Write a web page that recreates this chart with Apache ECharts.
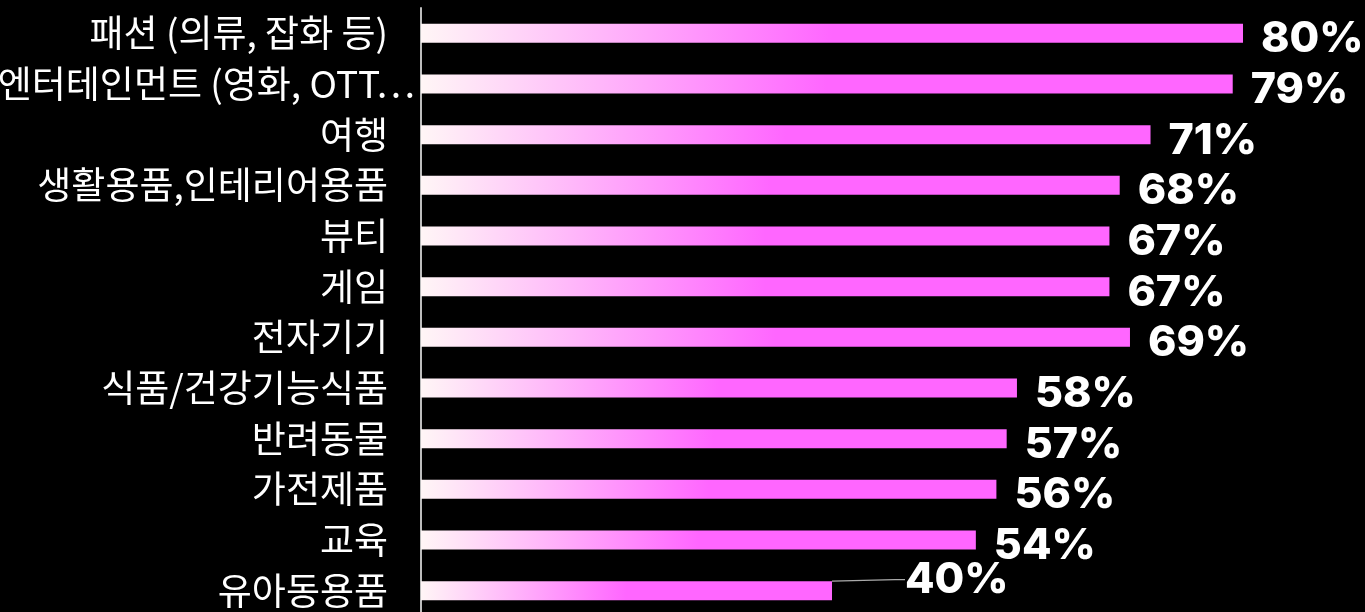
<!DOCTYPE html>
<html>
<head>
<meta charset="utf-8">
<script src="https://cdn.jsdelivr.net/npm/echarts@6/dist/echarts.min.js"></script>
<style>
  html, body { margin: 0; padding: 0; background: #000; }
  #chart { width: 1365px; height: 612px; }
</style>
</head>
<body>
<div id="chart"></div>
<script>
var categories = [
  '패션 (의류, 잡화 등)',
  '엔터테인먼트 (영화, OTT 등)',
  '여행',
  '생활용품,인테리어용품',
  '뷰티',
  '게임',
  '전자기기',
  '식품/건강기능식품',
  '반려동물',
  '가전제품',
  '교육',
  '유아동용품'
];
var values = [80, 79, 71, 68, 67, 67, 69, 58, 57, 56, 54, 40];

var LABEL_FONT_SIZE = 37;
var LABEL_FAMILY = '"Noto Sans CJK KR", sans-serif';
var LABEL_WIDTH = 426;
var lastIndex = values.length - 1;

var seriesData = values.map(function (v, i) {
  return i === lastIndex ? { value: v, labelLine: { show: true } } : v;
});

var chart = echarts.init(document.getElementById('chart'));
chart.setOption({
  backgroundColor: '#000',
  animation: false,
  grid: { left: 421, top: 8, width: 822, height: 608, containLabel: false, outerBoundsMode: 'none' },
  xAxis: {
    type: 'value', min: 0, max: 80,
    show: false
  },
  yAxis: {
    type: 'category',
    data: categories,
    inverse: true,
    axisLine: { show: true, lineStyle: { color: '#bdbdbd', width: 2 } },
    axisTick: { show: false },
    axisLabel: {
      color: '#fff',
      fontSize: LABEL_FONT_SIZE,
      fontFamily: LABEL_FAMILY,
      margin: 6,
      formatter: function (v) {
        var t = echarts.format.truncateText(v, LABEL_WIDTH, LABEL_FONT_SIZE + 'px ' + LABEL_FAMILY, '…');
        return t === v ? v + '{gap|}' : t;
      },
      rich: { gap: { width: 27 } }
    }
  },
  series: [{
    type: 'bar',
    data: seriesData,
    barWidth: 19,
    itemStyle: {
      color: {
        type: 'linear', x: 0, y: 0, x2: 1, y2: 1,
        colorStops: [
          { offset: 0, color: '#fff6f6' },
          { offset: 0.5, color: '#ff66ff' },
          { offset: 1, color: '#ff66ff' }
        ]
      }
    },
    label: {
      show: true,
      position: 'right',
      distance: 18,
      color: '#fff',
      fontFamily: 'Inter, sans-serif',
      fontWeight: 800,
      fontSize: 43,
      formatter: '{c}%'
    },
    labelLine: { show: false, length2: 10, lineStyle: { color: '#aaa', width: 1.2 } },
    labelLayout: function (p) {
      if (p.dataIndex === lastIndex) {
        return { dx: 55, dy: -11 };
      }
      return { dy: 6 };
    }
  }]
});
</script>
</body>
</html>
